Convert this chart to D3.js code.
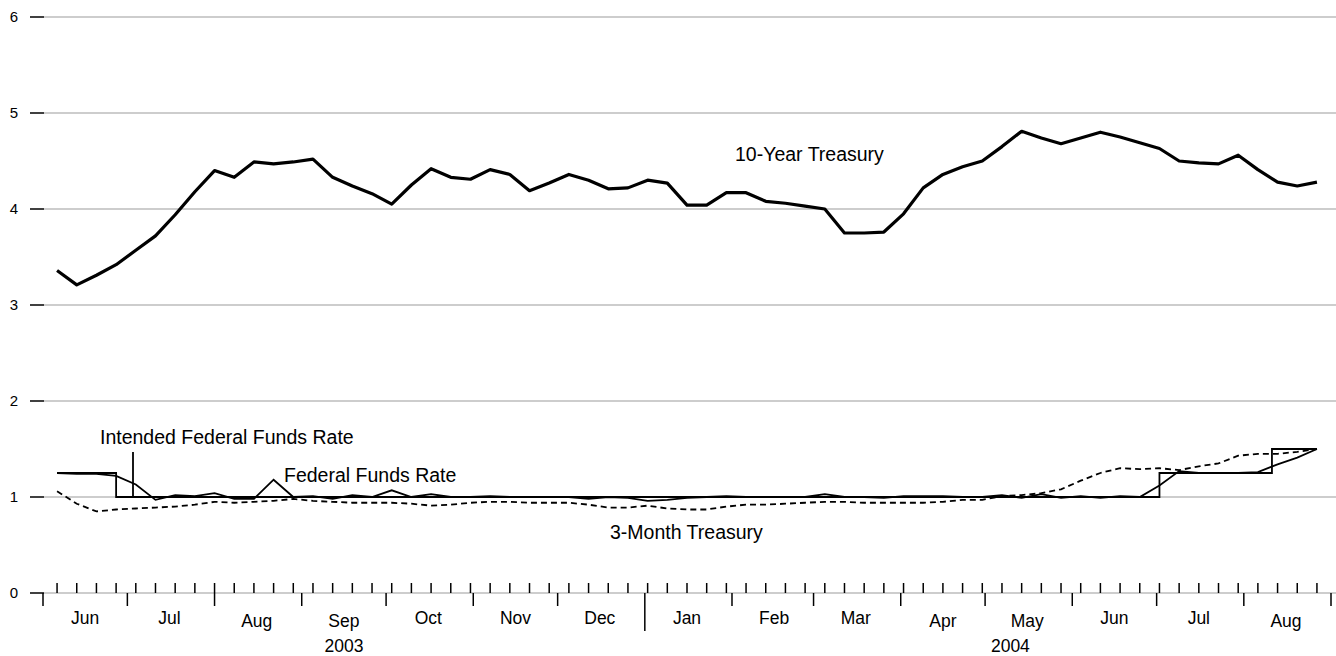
<!DOCTYPE html>
<meta charset="utf-8">
<script src="https://cdn.jsdelivr.net/npm/d3@7"></script>
<style>
  body { margin: 0; background: #fff; }
  text { font-family: "Liberation Sans", Arial, sans-serif; fill: #000; }
</style>
<div id="chart"></div>
<script>
  // weekly data, Fridays from 6 Jun 2003
  const tenYear = [3.36,3.21,3.31,3.42,3.57,3.72,3.94,4.18,4.40,4.33,4.49,4.47,4.49,4.52,4.33,4.24,4.16,4.05,4.25,4.42,
    4.33,4.31,4.41,4.36,4.19,4.27,4.36,4.30,4.21,4.22,4.30,4.27,4.04,4.04,4.17,4.17,4.08,4.06,4.03,4.00,
    3.75,3.75,3.76,3.95,4.22,4.36,4.44,4.50,4.65,4.81,4.74,4.68,4.74,4.80,4.75,4.69,4.63,4.50,4.48,4.47,
    4.56,4.41,4.28,4.24,4.28];
  const fedFunds = [1.25,1.24,1.24,1.22,1.13,0.97,1.02,1.01,1.04,0.98,0.98,1.18,1.00,1.01,0.98,1.02,1.00,1.07,1.00,1.03,
    1.00,1.00,1.01,1.00,1.00,1.00,1.00,0.98,1.00,0.99,0.96,0.97,0.99,1.00,1.01,1.00,1.00,1.00,1.00,1.03,
    1.00,1.00,0.99,1.01,1.01,1.01,1.00,1.00,1.02,0.99,1.03,0.99,1.01,0.99,1.01,1.00,1.12,1.27,1.25,1.25,
    1.25,1.26,1.34,1.41,1.50];
  const threeMonth = [1.06,0.93,0.85,0.87,0.88,0.89,0.90,0.92,0.95,0.94,0.95,0.96,0.98,0.96,0.95,0.94,0.94,0.94,0.93,0.91,
    0.92,0.94,0.95,0.95,0.94,0.94,0.94,0.92,0.89,0.89,0.91,0.88,0.87,0.87,0.90,0.92,0.92,0.93,0.94,0.95,
    0.95,0.94,0.94,0.94,0.94,0.95,0.97,0.97,1.01,1.02,1.04,1.08,1.17,1.25,1.30,1.29,1.30,1.28,1.32,1.35,
    1.43,1.45,1.45,1.47,1.50];
  const intendedDates = ["2003-06-06","2003-06-27","2004-07-02","2004-08-11","2004-08-27"];
  const intendedValues = [1.25,1.00,1.25,1.50,1.50];
  const yTicks = [0,1,2,3,4,5,6];
  const years = [{label:"2003", at:"2003-09-16"}, {label:"2004", at:"2004-05-10"}];

  const W = 1336, H = 656;
  const parse = d3.timeParse("%Y-%m-%d");
  const weeks = tenYear.map((_, i) => d3.timeDay.offset(parse("2003-06-06"), 7 * i));

  const x = d3.scaleTime().domain([parse("2003-06-01"), parse("2004-09-01")]).range([43, 1331]);
  const y = d3.scaleLinear().domain([0, 6]).range([593, 17]);

  const svg = d3.select("#chart").append("svg").attr("width", W).attr("height", H);

  // grid + y ticks
  svg.append("g").selectAll("line").data(yTicks).join("line")
    .attr("x1", 44).attr("x2", W).attr("y1", d => y(d)).attr("y2", d => y(d))
    .attr("stroke", "#bdbdbd").attr("stroke-width", 1.5);
  svg.append("g").selectAll("line").data(yTicks).join("line")
    .attr("x1", 30).attr("x2", 44).attr("y1", d => y(d)).attr("y2", d => y(d))
    .attr("stroke", "#000").attr("stroke-width", 1.5);
  svg.append("g").selectAll("text").data(yTicks).join("text")
    .attr("x", 14).attr("y", d => y(d) + 5).attr("text-anchor", "middle")
    .attr("font-size", 15).text(d => d);

  // weekly ticks
  svg.append("g").selectAll("line").data(weeks).join("line")
    .attr("x1", d => x(d)).attr("x2", d => x(d)).attr("y1", 583).attr("y2", 593)
    .attr("stroke", "#000").attr("stroke-width", 1.5);

  // month ticks + labels
  const months = d3.timeMonth.range(parse("2003-06-01"), parse("2004-09-02"));
  svg.append("g").selectAll("line").data(months).join("line")
    .attr("x1", d => x(d)).attr("x2", d => x(d)).attr("y1", 593)
    .attr("y2", d => (d.getMonth() === 0 ? 631 : 606))
    .attr("stroke", "#000").attr("stroke-width", 1.5);
  const fmt = d3.timeFormat("%b");
  svg.append("g").selectAll("text").data(months.slice(0, -1)).join("text")
    .attr("x", d => x(d3.timeDay.offset(d, 15)))
    .attr("y", d => (/[gpy]/.test(fmt(d)) ? 627 : 624))
    .attr("text-anchor", "middle").attr("font-size", 17.5).text(fmt);
  svg.append("g").selectAll("text").data(years).join("text")
    .attr("x", d => x(parse(d.at)))
    .attr("y", 652).attr("text-anchor", "middle").attr("font-size", 17.5).text(d => d.label);

  // lines
  const line = vals => d3.line().x((d, i) => x(weeks[i])).y(d => y(d))(vals);
  svg.append("path").attr("d", line(threeMonth)).attr("fill", "none")
    .attr("stroke", "#000").attr("stroke-width", 1.8).attr("stroke-dasharray", "6,4");
  svg.append("path").attr("d", line(fedFunds)).attr("fill", "none")
    .attr("stroke", "#000").attr("stroke-width", 1.8);
  svg.append("path")
    .attr("d", d3.line().curve(d3.curveStepAfter).x((d, i) => x(parse(intendedDates[i]))).y(d => y(d))(intendedValues))
    .attr("fill", "none").attr("stroke", "#000").attr("stroke-width", 1.8);
  svg.append("path").attr("d", line(tenYear)).attr("fill", "none")
    .attr("stroke", "#000").attr("stroke-width", 3.2).attr("stroke-linejoin", "round");

  // labels
  const lab = [
    {t:"10-Year Treasury", x:735, y:161},
    {t:"Intended Federal Funds Rate", x:100, y:444},
    {t:"Federal Funds Rate", x:284, y:482},
    {t:"3-Month Treasury", x:610, y:539}
  ];
  svg.append("g").selectAll("text").data(lab).join("text")
    .attr("x", d => d.x).attr("y", d => d.y).attr("font-size", 19.5).text(d => d.t);
  svg.append("line").attr("x1", 133).attr("x2", 133).attr("y1", 452).attr("y2", y(1))
    .attr("stroke", "#000").attr("stroke-width", 1.8);
</script>
